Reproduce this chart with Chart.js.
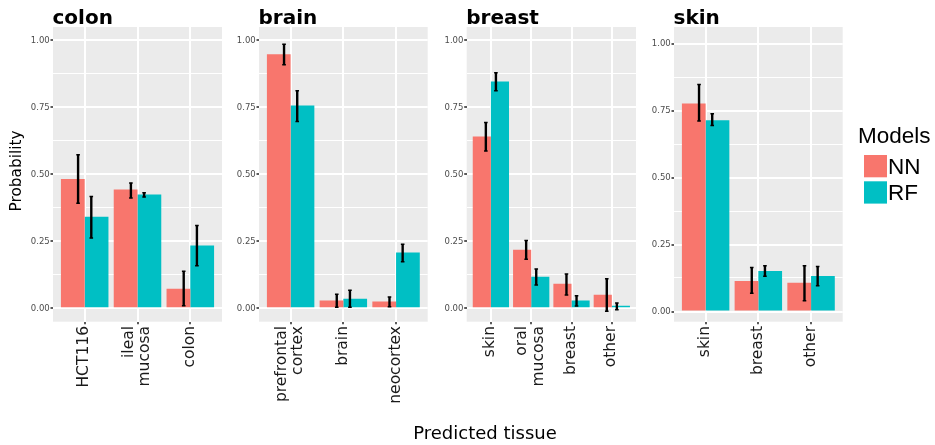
<!DOCTYPE html>
<html>
<head>
<meta charset="utf-8">
<script src="https://cdn.jsdelivr.net/npm/chart.js@4.4.1/dist/chart.umd.min.js"></script>
<style>
  html, body { margin: 0; padding: 0; background: #ffffff; }
  #wrap { position: relative; width: 935px; height: 445px; overflow: hidden; }
  #wrap canvas { position: absolute; left: 0; top: 0; }
</style>
</head>
<body>
<div id="wrap">
  <canvas id="colon" width="935" height="445"></canvas>
  <canvas id="brain" width="935" height="445"></canvas>
  <canvas id="breast" width="935" height="445"></canvas>
  <canvas id="skin" width="935" height="445"></canvas>
</div>
<script>
// ---- data ----
const modelNames = ['NN', 'RF'];
const modelColors = ['#F8766D', '#00BFC4'];

const yMajorTicks = [0, 0.25, 0.5, 0.75, 1];
const yMinorTicks = [0.125, 0.375, 0.625, 0.875];

// colon samples
const colonTissues = [['HCT116'], ['ileal', 'mucosa'], ['colon']];
const colonNN     = [0.483, 0.443, 0.073];
const colonNNLow  = [0.392, 0.412, 0.010];
const colonNNHigh = [0.573, 0.468, 0.138];
const colonRF     = [0.342, 0.425, 0.234];
const colonRFLow  = [0.262, 0.415, 0.159];
const colonRFHigh = [0.417, 0.431, 0.309];

// brain samples
const brainTissues = [['prefrontal', 'cortex'], ['brain'], ['neocortex']];
const brainNN     = [0.948, 0.029, 0.025];
const brainNNLow  = [0.909, 0.004, 0.006];
const brainNNHigh = [0.986, 0.052, 0.042];
const brainRF     = [0.757, 0.036, 0.208];
const brainRFLow  = [0.697, 0.004, 0.174];
const brainRFHigh = [0.812, 0.067, 0.239];

// breast samples
const breastTissues = [['skin'], ['oral', 'mucosa'], ['breast'], ['other']];
const breastNN     = [0.641, 0.219, 0.092, 0.051];
const breastNNLow  = [0.587, 0.183, 0.050, -0.011];
const breastNNHigh = [0.694, 0.253, 0.128, 0.110];
const breastRF     = [0.847, 0.118, 0.029, 0.010];
const breastRFLow  = [0.812, 0.087, 0.009, -0.005];
const breastRFHigh = [0.879, 0.147, 0.047, 0.020];

// skin samples
const skinTissues = [['skin'], ['breast'], ['other']];
const skinNN     = [0.776, 0.114, 0.107];
const skinNNLow  = [0.711, 0.068, 0.040];
const skinNNHigh = [0.847, 0.164, 0.171];
const skinRF     = [0.714, 0.151, 0.133];
const skinRFLow  = [0.694, 0.132, 0.096];
const skinRFHigh = [0.738, 0.171, 0.168];

// ---- layout ----
const PANEL_TOP = 27, PANEL_BOTTOM = 321.7;
const Y_AXIS_W = 30, X_AXIS_H = 4;
const W = 935, H = 445;

const panels = [
  { id: 'colon',  title: 'colon',  tissues: colonTissues,  nn: [colonNN, colonNNLow, colonNNHigh],   rf: [colonRF, colonRFLow, colonRFHigh],   left: 53,    right: 222,   yMin: -0.05,  yMax: 1.05 },
  { id: 'brain',  title: 'brain',  tissues: brainTissues,  nn: [brainNN, brainNNLow, brainNNHigh],   rf: [brainRF, brainRFLow, brainRFHigh],   left: 259,   right: 427.7, yMin: -0.05,  yMax: 1.05 },
  { id: 'breast', title: 'breast', tissues: breastTissues, nn: [breastNN, breastNNLow, breastNNHigh], rf: [breastRF, breastRFLow, breastRFHigh], left: 466.7, right: 636,   yMin: -0.05,  yMax: 1.05 },
  { id: 'skin',   title: 'skin',   tissues: skinTissues,   nn: [skinNN, skinNNLow, skinNNHigh],       rf: [skinRF, skinRFLow, skinRFHigh],       left: 674,   right: 842.7, yMin: -0.038, yMax: 1.062, page: true }
];

// Error bars, facet titles, rotated category labels, and page-level text
const decor = {
  id: 'decor',
  beforeDraw(chart) {
    const a = chart.chartArea, ctx = chart.ctx;
    ctx.save();
    ctx.fillStyle = '#EBEBEB';
    ctx.fillRect(a.left, a.top, a.right - a.left, a.bottom - a.top);
    ctx.restore();
  },
  afterDatasetsDraw(chart) {
    const ctx = chart.ctx, xs = chart.scales.x, ys = chart.scales.y;
    ctx.save();
    ctx.strokeStyle = '#000000';
    chart.data.datasets.forEach(ds => {
      ds.low.forEach((lo, i) => {
        const x = xs.getPixelForValue(i + 1 + ds.errShift);
        const y1 = ys.getPixelForValue(lo), y2 = ys.getPixelForValue(ds.high[i]);
        ctx.lineWidth = 2.4;
        ctx.beginPath(); ctx.moveTo(x, y1); ctx.lineTo(x, y2); ctx.stroke();
        ctx.lineWidth = 1.5;
        ctx.beginPath();
        ctx.moveTo(x - 1.8, y1); ctx.lineTo(x + 1.8, y1);
        ctx.moveTo(x - 1.8, y2); ctx.lineTo(x + 1.8, y2);
        ctx.stroke();
      });
    });
    ctx.restore();
  },
  afterDraw(chart, args, opts) {
    const ctx = chart.ctx, xs = chart.scales.x;
    ctx.save();
    // facet title
    ctx.fillStyle = '#000000';
    ctx.font = 'bold 20px "DejaVu Sans"';
    ctx.textAlign = 'left'; ctx.textBaseline = 'alphabetic';
    ctx.fillText(opts.title, chart.chartArea.left - 0.5, 24);
    // category labels, rotated
    ctx.font = '15.5px "DejaVu Sans"';
    ctx.fillStyle = '#1a1a1a';
    ctx.textAlign = 'right';
    opts.tissues.forEach((lines, i) => {
      const cx = xs.getPixelForValue(i + 1);
      lines.forEach((t, j) => {
        const bx = cx + 3.5 + (j - (lines.length - 1) / 2) * 16.5;
        ctx.save();
        ctx.translate(bx, 326);
        ctx.rotate(-Math.PI / 2);
        ctx.fillText(t, 0, 0);
        ctx.restore();
      });
    });
    if (opts.page) {
      // axis titles
      ctx.fillStyle = '#000000';
      ctx.font = '15.3px "DejaVu Sans"';
      ctx.textAlign = 'center';
      ctx.save();
      ctx.translate(20.5, 171);
      ctx.rotate(-Math.PI / 2);
      ctx.fillText('Probability', 0, 0);
      ctx.restore();
      ctx.font = '18px "DejaVu Sans"';
      ctx.fillText('Predicted tissue', 485, 439.3);
      // legend
      ctx.textAlign = 'left';
      ctx.font = '22.5px "Liberation Sans"';
      ctx.fillText('Models', 858, 142.5);
      chart.data.datasets.forEach((ds, k) => {
        const top = 155 + k * 26.3;
        ctx.fillStyle = ds.backgroundColor;
        ctx.fillRect(864, top, 23, 22.3);
        ctx.fillStyle = '#000000';
        ctx.fillText(ds.label, 888, top + 19);
      });
    }
    ctx.restore();
  }
};

function makePanel(p) {
  const n = p.tissues.length;
  const series = [p.nn, p.rf];
  new Chart(document.getElementById(p.id), {
    type: 'bar',
    data: {
      datasets: series.map((s, k) => ({
        label: modelNames[k],
        data: s[0].map((v, i) => ({ x: i + 1, y: v })),
        low: s[1],
        high: s[2],
        errShift: k === 0 ? -0.125 : 0.125,
        backgroundColor: modelColors[k],
        borderWidth: 0,
        categoryPercentage: 0.9,
        barPercentage: 1.0
      }))
    },
    options: {
      responsive: false,
      animation: false,
      events: [],
      layout: {
        padding: {
          left: p.left - Y_AXIS_W,
          right: W - p.right,
          top: PANEL_TOP,
          bottom: H - PANEL_BOTTOM - X_AXIS_H
        }
      },
      plugins: {
        legend: { display: false },
        tooltip: { enabled: false },
        title: { display: false },
        decor: { title: p.title, tissues: p.tissues, page: !!p.page }
      },
      scales: {
        x: {
          type: 'linear',
          offset: false,
          min: 0.4,
          max: n + 0.6,
          afterBuildTicks: s => { s.ticks = p.tissues.map((_, i) => ({ value: i + 1 })); },
          afterFit: s => { s.height = X_AXIS_H; },
          ticks: { display: false },
          grid: { offset: false, color: '#ffffff', lineWidth: 2, drawTicks: true, tickLength: 2.5, tickColor: '#333333', tickWidth: 1.6 },
          border: { display: false }
        },
        y: {
          type: 'linear',
          min: p.yMin,
          max: p.yMax,
          afterBuildTicks: s => {
            s.ticks = yMajorTicks.concat(yMinorTicks).sort((a, b) => a - b).map(v => ({ value: v }));
          },
          afterFit: s => { s.width = Y_AXIS_W; },
          ticks: {
            autoSkip: false,
            padding: 0.8,
            color: '#4D4D4D',
            font: { family: '"DejaVu Sans"', size: 8.5 },
            callback: v => yMajorTicks.includes(v) ? v.toFixed(2) : ''
          },
          grid: {
            color: '#ffffff',
            lineWidth: c => (c.tick && yMajorTicks.includes(c.tick.value)) ? 2 : 1.1,
            drawTicks: true,
            tickLength: 2.5,
            tickWidth: 1.6,
            tickColor: c => (c.tick && yMajorTicks.includes(c.tick.value)) ? '#333333' : 'rgba(0,0,0,0)'
          },
          border: { display: false }
        }
      }
    },
    plugins: [decor]
  });
}

panels.forEach(makePanel);
</script>
</body>
</html>
